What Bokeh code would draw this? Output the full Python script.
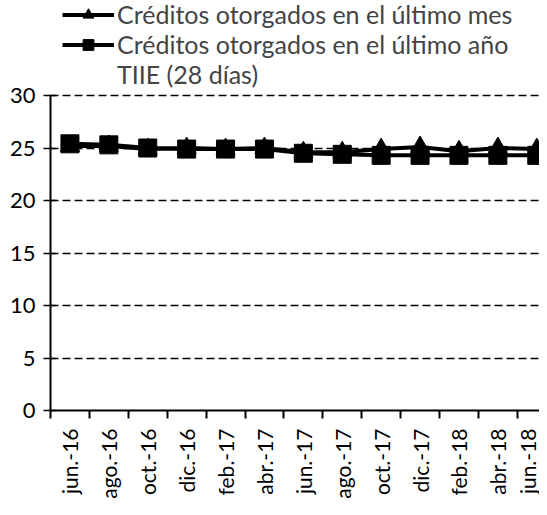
import math
from bokeh.plotting import figure
from bokeh.models import Legend, LegendItem, FixedTicker, Range1d, ColumnDataSource
from bokeh.embed import file_html
from bokeh.resources import INLINE

meses = ["jun.-16", "ago.-16", "oct.-16", "dic.-16", "feb.-17", "abr.-17", "jun.-17",
         "ago.-17", "oct.-17", "dic.-17", "feb.-18", "abr.-18", "jun.-18"]
ultimo_mes = [25.2, 25.2, 24.9, 25.0, 24.9, 25.0, 24.6, 24.6, 24.9, 25.1, 24.7, 25.0, 24.9]
ultimo_anio = [25.4, 25.3, 25.0, 24.9, 24.9, 24.9, 24.5, 24.4, 24.3, 24.3, 24.3, 24.3, 24.3]
tiie = []

FONT = "Lato"
idx = list(range(len(meses)))

p = figure(width=539, height=507, output_backend="svg", toolbar_location=None,
           x_range=Range1d(-0.5, 12.07), y_range=Range1d(0, 39.05),
           min_border_left=50, min_border_right=0, min_border_top=0, min_border_bottom=97)
p.outline_line_color = None

src_mes = ColumnDataSource(dict(x=idx, y=ultimo_mes))
src_anio = ColumnDataSource(dict(x=idx, y=ultimo_anio))
src_tiie = ColumnDataSource(dict(x=idx[:len(tiie)], y=tiie))

l_anio = p.line("x", "y", source=src_anio, line_color="black", line_width=4)
m_anio = p.scatter("x", "y", source=src_anio, marker="square", size=18,
                   fill_color="black", line_color="black")
l_mes = p.line("x", "y", source=src_mes, line_color="black", line_width=4)
m_mes = p.scatter("x", "y", source=src_mes, marker="triangle", size=19,
                  fill_color="black", line_color="black")
l_tiie = p.line("x", "y", source=src_tiie, line_color="#c8c8c8", line_width=2, line_dash="3 2")

p.xgrid.visible = False
p.ygrid.ticker = FixedTicker(ticks=[5, 10, 15, 20, 25, 30])
p.ygrid.grid_line_color = "black"
p.ygrid.grid_line_dash = "8 4"
p.ygrid.grid_line_width = 1.5

ya = p.yaxis[0]
ya.ticker = FixedTicker(ticks=[0, 5, 10, 15, 20, 25, 30])
ya.bounds = (0, 30)
ya.axis_line_width = 2
ya.major_tick_in = 5
ya.major_tick_out = 7
ya.major_tick_line_width = 1.5
ya.minor_tick_line_color = None
ya.major_label_text_font = FONT
ya.major_label_text_font_size = "22px"
ya.major_label_text_color = "black"
ya.major_label_standoff = 8

xa = p.xaxis[0]
xa.ticker = FixedTicker(ticks=idx, minor_ticks=[i - 0.5 for i in range(len(meses) + 1)])
xa.major_label_overrides = {i: m for i, m in enumerate(meses)}
xa.axis_line_width = 2
xa.major_tick_line_color = None
xa.major_tick_in = 0
xa.major_tick_out = 0
xa.minor_tick_in = 0
xa.minor_tick_out = 8
xa.minor_tick_line_width = 2
xa.minor_tick_line_color = "black"
xa.major_label_orientation = math.pi / 2
xa.major_label_text_font = FONT
xa.major_label_text_font_size = "21px"
xa.major_label_text_color = "black"
xa.major_label_standoff = 10

legend = Legend(items=[
    LegendItem(label="Créditos otorgados en el último mes", renderers=[l_mes, m_mes]),
    LegendItem(label="Créditos otorgados en el último año", renderers=[l_anio, m_anio]),
    LegendItem(label="TIIE (28 días)", renderers=[l_tiie]),
], location=(12, 321))
legend.label_text_font = FONT
legend.label_text_font_size = "25px"
legend.label_height = 27
legend.glyph_height = 27
legend.glyph_width = 52
legend.spacing = 0
legend.padding = 0
legend.margin = 0
legend.label_standoff = 3
legend.border_line_color = None
legend.background_fill_alpha = 0
p.add_layout(legend)

open("out.html", "w").write(file_html(p, INLINE))
